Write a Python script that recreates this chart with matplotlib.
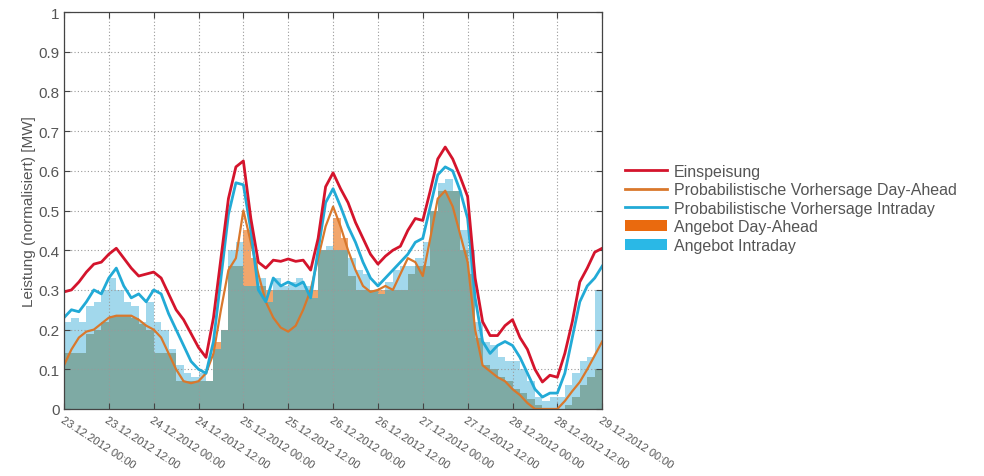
import numpy as np
import matplotlib
matplotlib.use("Agg")
import matplotlib.pyplot as plt
from matplotlib.lines import Line2D
from matplotlib.patches import Patch

plt.rcParams['font.family'] = ['Liberation Sans', 'DejaVu Sans']

# time axis in hours since 23.12.2012 00:00 (2-hour resolution)
hours = np.arange(0, 145, 2)

tick_hours = list(range(0, 145, 12))
tick_labels = ["23.12.2012 00:00", "23.12.2012 12:00", "24.12.2012 00:00",
               "24.12.2012 12:00", "25.12.2012 00:00", "25.12.2012 12:00",
               "26.12.2012 00:00", "26.12.2012 12:00", "27.12.2012 00:00",
               "27.12.2012 12:00", "28.12.2012 00:00", "28.12.2012 12:00",
               "29.12.2012 00:00"]

# measured feed-in (normalised)
einspeisung = [0.295, 0.30, 0.32, 0.345, 0.365, 0.37, 0.39, 0.405, 0.38, 0.355,
               0.335, 0.34, 0.345, 0.33, 0.29, 0.25, 0.225, 0.19, 0.155, 0.13,
               0.23, 0.38, 0.53, 0.61, 0.625, 0.48, 0.37, 0.355, 0.375, 0.372,
               0.378, 0.372, 0.375, 0.35, 0.43, 0.56, 0.595, 0.555, 0.52, 0.47,
               0.43, 0.39, 0.365, 0.385, 0.40, 0.41, 0.45, 0.48, 0.475, 0.55,
               0.63, 0.66, 0.63, 0.585, 0.535, 0.33, 0.22, 0.185, 0.185, 0.21,
               0.225, 0.18, 0.15, 0.10, 0.068, 0.085, 0.08, 0.14, 0.22, 0.32,
               0.355, 0.395, 0.405]

# probabilistic day-ahead forecast
vorhersage_da = [0.11, 0.15, 0.18, 0.195, 0.20, 0.215, 0.23, 0.235, 0.235, 0.235,
                 0.225, 0.21, 0.20, 0.18, 0.14, 0.10, 0.07, 0.065, 0.07, 0.09,
                 0.14, 0.25, 0.35, 0.38, 0.50, 0.42, 0.34, 0.27, 0.23, 0.205,
                 0.195, 0.21, 0.25, 0.30, 0.38, 0.46, 0.51, 0.46, 0.40, 0.35,
                 0.31, 0.295, 0.30, 0.31, 0.30, 0.34, 0.38, 0.37, 0.335, 0.43,
                 0.53, 0.55, 0.51, 0.44, 0.37, 0.20, 0.11, 0.095, 0.08, 0.07,
                 0.05, 0.035, 0.015, 0.0, 0.0, 0.0, 0.0, 0.02, 0.045, 0.068,
                 0.10, 0.135, 0.17]

# probabilistic intraday forecast
vorhersage_id = [0.23, 0.25, 0.245, 0.27, 0.30, 0.29, 0.33, 0.355, 0.31, 0.28,
                 0.29, 0.27, 0.30, 0.29, 0.24, 0.20, 0.16, 0.12, 0.10, 0.09,
                 0.17, 0.33, 0.49, 0.57, 0.565, 0.45, 0.30, 0.27, 0.33, 0.31,
                 0.32, 0.31, 0.32, 0.28, 0.40, 0.52, 0.555, 0.51, 0.46, 0.42,
                 0.37, 0.33, 0.31, 0.33, 0.35, 0.37, 0.39, 0.42, 0.43, 0.51,
                 0.59, 0.61, 0.60, 0.55, 0.48, 0.28, 0.17, 0.14, 0.16, 0.17,
                 0.16, 0.13, 0.09, 0.05, 0.03, 0.04, 0.04, 0.09, 0.18, 0.27,
                 0.31, 0.33, 0.36]

# offered power, day-ahead and intraday (block values)
angebot_da = [0.14, 0.14, 0.14, 0.19, 0.20, 0.22, 0.235, 0.235, 0.235, 0.23,
              0.215, 0.20, 0.14, 0.14, 0.14, 0.07, 0.07, 0.07, 0.07, 0.07,
              0.17, 0.20, 0.36, 0.36, 0.45, 0.38, 0.31, 0.30, 0.30, 0.30,
              0.30, 0.30, 0.30, 0.30, 0.40, 0.40, 0.48, 0.43, 0.335, 0.30,
              0.30, 0.30, 0.30, 0.30, 0.30, 0.30, 0.34, 0.36, 0.36, 0.50,
              0.55, 0.55, 0.55, 0.40, 0.34, 0.18, 0.11, 0.10, 0.08, 0.07,
              0.05, 0.04, 0.025, 0.01, 0.0, 0.0, 0.0, 0.01, 0.03, 0.06,
              0.08, 0.10, 0.10]

angebot_id = [0.22, 0.23, 0.22, 0.26, 0.27, 0.30, 0.33, 0.30, 0.27, 0.26,
              0.22, 0.27, 0.22, 0.20, 0.15, 0.11, 0.09, 0.08, 0.09, 0.07,
              0.15, 0.20, 0.40, 0.42, 0.31, 0.31, 0.33, 0.27, 0.33, 0.31,
              0.32, 0.33, 0.31, 0.28, 0.40, 0.41, 0.40, 0.40, 0.38, 0.35,
              0.34, 0.30, 0.29, 0.32, 0.35, 0.36, 0.36, 0.38, 0.42, 0.50,
              0.57, 0.58, 0.55, 0.45, 0.40, 0.22, 0.17, 0.16, 0.13, 0.12,
              0.12, 0.10, 0.07, 0.03, 0.02, 0.03, 0.03, 0.06, 0.09, 0.12,
              0.13, 0.30, 0.30]

legend_labels = ["Einspeisung", "Probabilistische Vorhersage Day-Ahead",
                 "Probabilistische Vorhersage Intraday", "Angebot Day-Ahead",
                 "Angebot Intraday"]

c_red = "#d4142c"
c_orange_line = "#d9782c"
c_cyan = "#22aad6"
c_orange_fill = "#ea6a0e"
c_blue_fill = "#2ab8e6"
c_overlap = "#7eaaa4"
c_orange_light = "#f2a66c"
c_blue_light = "#a2d8ec"
text_col = "#555555"

fig = plt.figure(figsize=(9.84, 4.77), dpi=100)
ax = fig.add_axes([0.065, 0.1405, 0.547, 0.832])

da = np.array(angebot_da)
idy = np.array(angebot_id)
both = np.minimum(da, idy)
ax.fill_between(hours, 0, both, step='post', color=c_overlap, lw=0, zorder=1)
ax.fill_between(hours, both, da, step='post', color=c_orange_light, lw=0, zorder=1)
ax.fill_between(hours, both, idy, step='post', color=c_blue_light, lw=0, zorder=1)

ax.plot(hours, vorhersage_da, color=c_orange_line, lw=1.6, zorder=3)
ax.plot(hours, vorhersage_id, color=c_cyan, lw=2.0, zorder=4)
ax.plot(hours, einspeisung, color=c_red, lw=2.0, zorder=5)

ax.set_xlim(0, 144)
ax.set_ylim(0, 1)
ax.set_xticks(tick_hours)
ax.set_xticklabels(tick_labels, rotation=-33, ha='left', va='top',
                   rotation_mode='anchor', fontsize=8, color=text_col)
ax.set_yticks(np.arange(0, 1.01, 0.1))
ax.set_yticklabels(["0", "0.1", "0.2", "0.3", "0.4", "0.5", "0.6", "0.7",
                    "0.8", "0.9", "1"], fontsize=11, color=text_col)
ax.tick_params(direction='in', top=True, right=True, length=4, width=0.8,
               color="#444444", pad=3)
ax.tick_params(axis='x', pad=4)
ax.grid(True, linestyle=(0, (1, 2)), color="#9a9a9a", lw=0.8, zorder=2)
ax.set_axisbelow(False)
for s in ax.spines.values():
    s.set_color("#444444")
    s.set_linewidth(0.9)
    s.set_zorder(6)

ax.set_ylabel("Leistung (normalisiert) [MW]", fontsize=11, color=text_col,
              labelpad=2)

handles = [Line2D([], [], color=c_red, lw=2.0),
           Line2D([], [], color=c_orange_line, lw=2.0),
           Line2D([], [], color=c_cyan, lw=2.0),
           Patch(facecolor=c_orange_fill, edgecolor='none'),
           Patch(facecolor=c_blue_fill, edgecolor='none')]
leg = fig.legend(handles, legend_labels, loc='upper left',
                 bbox_to_anchor=(0.629, 0.668), frameon=False, fontsize=11.5,
                 handlelength=2.6, handletextpad=0.45, labelspacing=0.22,
                 borderaxespad=0)
for t in leg.get_texts():
    t.set_color(text_col)

fig.savefig("out.png", dpi=100)
